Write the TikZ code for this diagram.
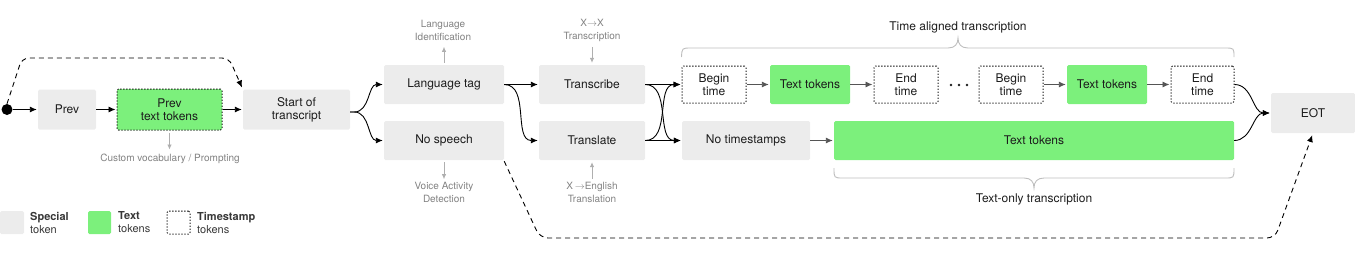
\documentclass[tikz,border=0pt]{standalone}
\usepackage{fontspec}
\setmainfont{TeX Gyre Heros}
\usetikzlibrary{arrows.meta,calc}
\definecolor{spgray}{RGB}{236,236,236}
\definecolor{tgreen}{RGB}{124,240,124}
\definecolor{anngray}{RGB}{130,130,130}
\definecolor{arrgray}{RGB}{175,175,175}
\definecolor{bracegray}{RGB}{190,190,190}
\definecolor{txt}{RGB}{28,28,28}
\definecolor{seqgray}{RGB}{85,85,85}
\definecolor{legtxt}{RGB}{55,55,55}
\tikzset{
  tok/.style={inner sep=0pt, align=center, font=\fontsize{12}{13}\selectfont, text=txt, rounded corners=1.5pt},
  special/.style={tok, fill=spgray},
  textt/.style={tok, fill=tgreen},
  stamp/.style={tok, draw=txt, dash pattern=on 1.3pt off 1.7pt, line width=1pt, fill=white},
  stamptext/.style={tok, fill=tgreen, draw=txt, dash pattern=on 1.3pt off 1.7pt, line width=1pt},
  arr/.style={-{Latex[length=7pt,width=6pt]}, line width=0.9pt, draw=black, shorten >=1pt},
  seqarr/.style={arr, draw=seqgray},
  garr/.style={-{Latex[length=5pt,width=4.5pt]}, line width=0.8pt, draw=arrgray},
  ann/.style={inner sep=0pt, align=center, font=\fontsize{10}{13}\selectfont, text=anngray},
  bracelbl/.style={inner sep=0pt, font=\fontsize{12}{13}\selectfont, text=txt},
  brace/.style={draw=bracegray, line width=0.9pt},
  dashconn/.style={-{Latex[length=7pt,width=6pt]}, line width=0.9pt, dash pattern=on 5pt off 4pt, shorten >=2pt},
  legtext/.style={inner sep=0pt, align=left, anchor=west, font=\fontsize{11}{13}\selectfont, text=legtxt},
}
\begin{document}
\begin{tikzpicture}[x=1pt,y=-1pt]
\useasboundingbox (0,0) rectangle (1355,258);

% start dot and first row
\node[circle, fill=black, inner sep=0pt, minimum size=11pt] (dot) at (7,109.5) {};
\node[special, minimum width=58pt, minimum height=40pt] (prev) at (67,109.5) {Prev};
\node[stamptext, minimum width=105pt, minimum height=41pt] (ptt) at (169.5,109.5) {Prev\\text tokens};
\node[special, minimum width=107pt, minimum height=40pt] (sot) at (296.5,109.5) {Start of\\transcript};

% language / no speech
\node[special, minimum width=120pt, minimum height=39pt] (lang) at (444,84.5) {Language tag};
\node[special, minimum width=120pt, minimum height=39pt] (nosp) at (444,140.5) {No speech};

% task
\node[special, minimum width=106pt, minimum height=39pt] (trans) at (592,84.5) {Transcribe};
\node[special, minimum width=106pt, minimum height=39pt] (transl) at (592,140.5) {Translate};

% time aligned row
\node[stamp, minimum width=64pt, minimum height=37pt] (bt1) at (714,84.5) {Begin\\time};
\node[textt, minimum width=80pt, minimum height=39pt] (tt1) at (810,84.5) {Text tokens};
\node[stamp, minimum width=64pt, minimum height=37pt] (et1) at (906,84.5) {End\\time};
\node[stamp, minimum width=64pt, minimum height=37pt] (bt2) at (1011,84.5) {Begin\\time};
\node[textt, minimum width=80pt, minimum height=39pt] (tt2) at (1107,84.5) {Text tokens};
\node[stamp, minimum width=63pt, minimum height=37pt] (et2) at (1202.5,84.5) {End\\time};
\fill[txt] (951,85) circle (1.4pt) (959,85) circle (1.4pt) (967,85) circle (1.4pt);

% text-only row
\node[special, minimum width=128pt, minimum height=39pt] (nots) at (746,140.5) {No timestamps};
\node[textt, minimum width=400pt, minimum height=39pt] (bigtt) at (1034,140.5) {Text tokens};

% EOT
\node[special, minimum width=84pt, minimum height=40pt] (eot) at (1313,113) {EOT};

% connectors first row
\draw[arr] (dot) -- (prev);
\draw[arr] (prev) -- (ptt);
\draw[arr] (ptt) -- (sot);
\draw[dashconn, rounded corners=7pt] (dot.north) -- (22,58) -- (229,58) -- (sot.north west);

% branching
\coordinate (j) at ([yshift=-2.5pt]sot.east);
\draw[arr] (j) -- ++(4,0) to[out=0,in=180] (lang.west);
\draw[arr] (j) -- ++(4,0) to[out=0,in=180] (nosp.west);

\draw[arr] (lang) -- (trans);
\draw[arr] (lang.east) to[out=0,in=180] (transl.west);

\draw[arr] (trans) -- (bt1);
\draw[arr] (trans.east) to[out=0,in=180] (nots.west);
\draw[arr] (transl) -- (nots);
\draw[arr] (transl.east) to[out=0,in=180] (bt1.west);

\draw[seqarr] (bt1) -- (tt1);
\draw[seqarr] (tt1) -- (et1);
\draw[seqarr] (bt2) -- (tt2);
\draw[seqarr] (tt2) -- (et2);
\draw[seqarr] (nots) -- (bigtt);

\draw[arr] (et2.east) to[out=0,in=180] (eot.west);
\draw[arr] (bigtt.east) to[out=0,in=180] (eot.west);

\draw[dashconn, rounded corners=8pt] ([yshift=-1pt]nosp.south east) -- (540,238) -- (1275,238) -- (eot.south);

% braces
\draw[brace] (bt1.north west |- 0,57) .. controls (682,48) .. (691,48) -- (948,48)
  .. controls (955,48) and (958,44) .. (958,38)
  .. controls (958,44) and (961,48) .. (968,48) -- (1225,48)
  .. controls (1234,48) .. (1234,57);
\node[bracelbl] (tal) at (958,27) {Time aligned transcription};

\draw[brace] (834,168) .. controls (834,178) .. (843,178) -- (1024,178)
  .. controls (1031,178) and (1034,182) .. (1034,188)
  .. controls (1034,182) and (1037,178) .. (1044,178) -- (1225,178)
  .. controls (1234,178) .. (1234,168);
\node[bracelbl] (tol) at (1034,199) {Text-only transcription};

% annotations
\node[ann] (cvp) at (170,159) {Custom vocabulary / Prompting};
\draw[garr] ([yshift=-2pt]ptt.south) -- ++(0,17);

\node[ann] (lid) at (443,30.5) {Language\\Identification};
\draw[garr] ([yshift=2pt]lang.north) -- ++(0,-16);

\node[ann] (xx) at (592,30.5) {X$\to$X\\Transcription};
\draw[garr] ([yshift=18pt]trans.north) -- ([yshift=2pt]trans.north);

\node[ann] (vad) at (444,192.5) {Voice Activity\\Detection};
\draw[garr] ([yshift=-2pt]nosp.south) -- ++(0,17);

\node[ann] (xe) at (592,192.5) {X\,$\to$English\\Translation};
\draw[garr] ([yshift=-19pt]transl.south) -- ([yshift=-2pt]transl.south);

% legend
\node[special, minimum width=24pt, minimum height=23pt] (lsp) at (12,222.5) {};
\node[legtext] (lspt) at (30,222.5) {\textbf{Special}\\token};
\node[textt, minimum width=23pt, minimum height=23pt] (ltx) at (99.5,222.5) {};
\node[legtext] (ltxt) at (118,222.5) {\textbf{Text}\\tokens};
\node[stamp, minimum width=23pt, minimum height=23pt] (lts) at (178.5,222.5) {};
\node[legtext] (ltst) at (197,222.5) {\textbf{Timestamp}\\tokens};
\end{tikzpicture}
\end{document}
